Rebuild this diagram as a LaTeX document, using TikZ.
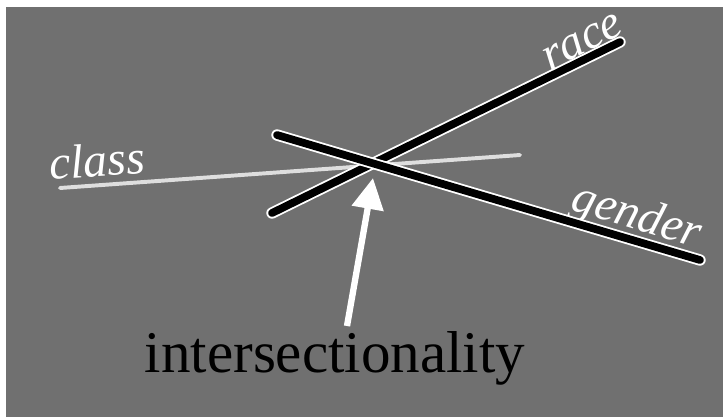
\documentclass[tikz,border=0pt]{standalone}
\usepackage{fontspec}
\setmainfont{Liberation Serif}
\usetikzlibrary{arrows.meta}
\definecolor{chalkgray}{RGB}{112,112,112}
\definecolor{chalkwhite}{RGB}{222,222,222}

\begin{document}
\begin{tikzpicture}[x=0.025cm,y=-0.025cm,
axis/.style={draw=white,double=black,double distance=5.5pt,line width=1.3pt,line cap=round},
faint/.style={draw=chalkwhite,line width=2.8pt,line cap=round},
word/.style={text=white,font=\fontsize{34}{40}\selectfont\itshape,inner sep=0pt},
arr/.style={-{Triangle[length=22pt,width=22pt]},white,line width=4.5pt}
]
\useasboundingbox (0,0) rectangle (723,417);
\fill[white] (0,0) rectangle (723,417);
\fill[chalkgray] (6,7) rectangle (723,417);
\coordinate (class-a) at (60,188);
\coordinate (class-b) at (520,155);
\coordinate (race-a) at (272,213);
\coordinate (race-b) at (620,42);
\coordinate (gender-a) at (277,135);
\coordinate (gender-b) at (700,260);
\coordinate (meet) at (373,178);
\coordinate (tail) at (347,326);
\node[word,rotate=27] (race) at (583,42) {race};
\node[word,rotate=4] (klass) at (97,160) {class};
\node[word,rotate=-17] (gender) at (636,218) {gender};
\node[font=\fontsize{42}{48}\selectfont,inner sep=0pt,anchor=base] (inter) at (335,372) {intersectionality};
\draw[faint] (class-a) -- (class-b);
\draw[axis] (race-a) -- (race-b);
\draw[axis] (gender-a) -- (gender-b);
\draw[arr] (tail) -- (meet);
\end{tikzpicture}
\end{document}
